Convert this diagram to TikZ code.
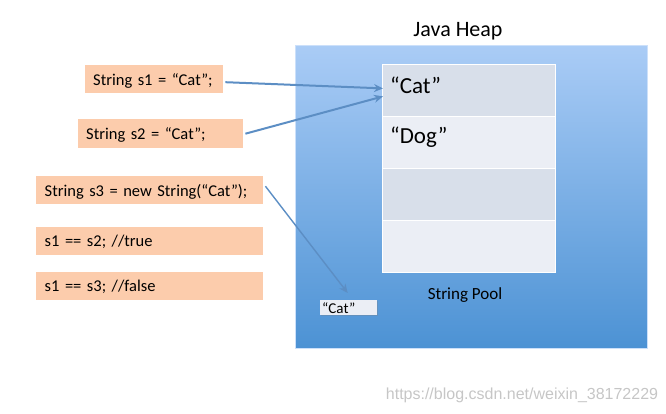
\documentclass[tikz,border=0pt]{standalone}
\usepackage{fontspec}
\setmainfont{Carlito}
\newfontfamily\urlfont{Liberation Sans}
\usetikzlibrary{arrows.meta, positioning, shadows}
\definecolor{peach}{RGB}{252,204,172}
\definecolor{heaptop}{RGB}{170,204,246}
\definecolor{heapbot}{RGB}{76,146,212}
\definecolor{rowdark}{RGB}{216,223,234}
\definecolor{rowlight}{RGB}{235,238,245}
\definecolor{arrowblue}{RGB}{92,142,196}
\tikzstyle{codebox} = [fill=peach, anchor=north west, inner xsep=8pt, inner ysep=0pt, minimum height=28pt, text depth=0pt, font=\fontsize{16.5}{18}\selectfont]
\tikzstyle{heap} = [top color=heaptop, bottom color=heapbot, draw=heaptop!60!white, line width=0.6pt, anchor=north west, inner sep=0pt, minimum width=352pt, minimum height=303pt]
\tikzstyle{poolrow} = [draw=white, line width=0.8pt, anchor=north west, inner sep=0pt, minimum width=173pt, minimum height=52pt]
\tikzstyle{pointer} = [draw=arrowblue, line width=2pt, -{Stealth[length=9pt, width=8pt, inset=3pt]}]

\begin{document}
\begin{tikzpicture}[x=1pt, y=-1pt]
	\useasboundingbox (0,0) rectangle (666,414);
	% heap and pool
	\node[heap] (heap) at (295,45) {};
	\node[font=\fontsize{22}{24}\selectfont] (title) at (458,31) {Java Heap};
	\node[poolrow, fill=rowdark] (row1) at (382,64) {};
	\node[poolrow, fill=rowlight] (row2) at (382,116) {};
	\node[poolrow, fill=rowdark] (row3) at (382,168) {};
	\node[poolrow, fill=rowlight] (row4) at (382,220) {};
	\node[font=\fontsize{23}{25}\selectfont, anchor=west, inner sep=0pt] (cat) at (390,85) {“Cat”};
	\node[font=\fontsize{23}{25}\selectfont, anchor=west, inner sep=0pt] (dog) at (390,137) {“Dog”};
	\node[font=\fontsize{17}{19}\selectfont] (pool) at (465,295) {String Pool};
	\node[fill=rowlight, anchor=north west, minimum width=57pt, minimum height=15pt, text width=53pt, inner xsep=2pt, inner ysep=0pt, font=\fontsize{15}{15}\selectfont, drop shadow={opacity=0.3, shadow xshift=1pt, shadow yshift=-1pt}] (newcat) at (320,300) {“Cat”};
	% code boxes
	\node[codebox, text width=122pt] (s1) at (85,65) {String s1 = “Cat”;};
	\node[codebox, text width=149pt, minimum height=29pt] (s2) at (78,119) {String s2 = “Cat”;};
	\node[codebox, text width=210pt, inner xsep=8.5pt] (s3) at (36,176) {String s3 = new String(“Cat”);};
	\node[codebox, text width=210pt, inner xsep=8.5pt] (eq1) at (36,227) {s1 == s2; //true};
	\node[codebox, text width=210pt, inner xsep=8.5pt] (eq2) at (36,272) {s1 == s3; //false};
	% references
	\draw[pointer] ([xshift=2pt,yshift=-3pt]s1.east) -- ([xshift=1pt,yshift=2pt]row1.west);
	\draw[pointer] ([xshift=2pt]s2.east) -- ([xshift=1pt,yshift=-6pt]row1.west);
	\draw[pointer, line width=1.4pt] ([xshift=2pt,yshift=4pt]s3.east) -- ([xshift=-1pt,yshift=7pt]newcat.north);
	\node[text=gray!45, font=\fontsize{16}{18}\urlfont] (mark) at (522,395) {https://blog.csdn.net/weixin\_38172229};
\end{tikzpicture}
\end{document}
